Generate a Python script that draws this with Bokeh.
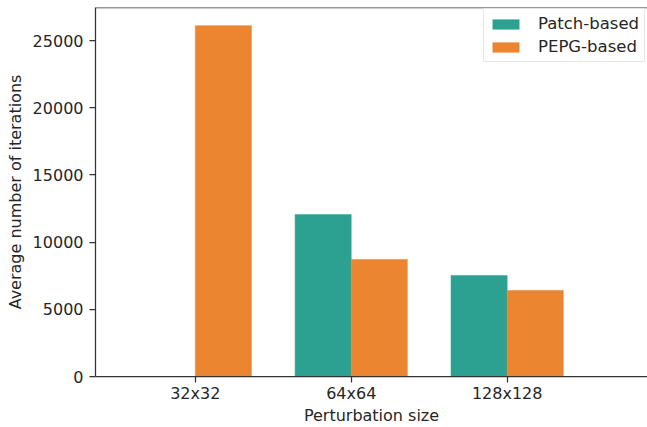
from bokeh.plotting import figure
from bokeh.models import ColumnDataSource, Range1d, FixedTicker, Span, Legend, LegendItem
from bokeh.transform import dodge
from bokeh.embed import file_html
from bokeh.resources import INLINE

categories = ["32x32", "64x64", "128x128"]
patch_based = [0, 12050, 7520]
pepg_based = [26110, 8710, 6400]
y_ticks = [0, 5000, 10000, 15000, 20000, 25000]

TEAL = "#2ca191"
ORANGE = "#eb8530"
AXC = "#333333"
TXT = "#262626"
FONT = "DejaVu Sans"

Y_END = 27460

xs = list(range(len(categories)))
src = ColumnDataSource(dict(x=xs, patch=patch_based, pepg=pepg_based))

p = figure(width=647, height=427, output_backend="svg", toolbar_location=None,
           x_range=Range1d(-0.64, 2.9), y_range=Range1d(0, Y_END),
           min_border_left=95, min_border_right=0, min_border_top=7, min_border_bottom=50)
p.outline_line_color = None
p.grid.visible = False
p.background_fill_color = "white"
p.border_fill_color = "white"

w = 0.36
r1 = p.vbar(x=dodge("x", -w / 2, range=p.x_range), top="patch", width=w, source=src,
            fill_color=TEAL, line_color=TEAL, line_width=0.5)
r2 = p.vbar(x=dodge("x", w / 2, range=p.x_range), top="pepg", width=w, source=src,
            fill_color=ORANGE, line_color=ORANGE, line_width=0.5)

top_spine = Span(location=Y_END, dimension="width", line_color=AXC, line_width=1.5,
                 level="overlay")
p.add_layout(top_spine)

p.xaxis.ticker = FixedTicker(ticks=xs)
p.xaxis.major_label_overrides = {i: c for i, c in zip(xs, categories)}
p.yaxis.ticker = FixedTicker(ticks=y_ticks)
p.xaxis.axis_label = "Perturbation size"
p.yaxis.axis_label = "Average number of iterations"

for ax in (p.xaxis, p.yaxis):
    ax.axis_line_color = AXC
    ax.axis_line_width = 1.25
    ax.major_tick_line_color = AXC
    ax.major_tick_line_width = 1.25
    ax.major_tick_out = 6
    ax.major_tick_in = 0
    ax.minor_tick_line_color = None
    ax.major_label_text_font = FONT
    ax.major_label_text_font_size = "16px"
    ax.major_label_text_color = TXT
    ax.axis_label_text_font = FONT
    ax.axis_label_text_font_size = "16px"
    ax.axis_label_text_color = TXT
    ax.axis_label_text_font_style = "normal"
p.xaxis.major_label_standoff = 1
p.xaxis.axis_label_standoff = 0
p.yaxis.major_label_standoff = 6
p.yaxis.axis_label_standoff = 5

legend = Legend(items=[LegendItem(label="Patch-based", renderers=[r1]),
                       LegendItem(label="PEPG-based", renderers=[r2])],
                location=(388, 314))
legend.label_text_font = FONT
legend.label_text_font_size = "16.5px"
legend.label_text_color = TXT
legend.glyph_width = 33
legend.glyph_height = 12
legend.label_height = 19
legend.label_standoff = 16
legend.spacing = 4
legend.padding = 5
legend.margin = 0
legend.border_line_color = "#cccccc"
legend.border_line_width = 1
legend.background_fill_alpha = 0.9
p.add_layout(legend)

open("out.html", "w").write(file_html(p, INLINE))
